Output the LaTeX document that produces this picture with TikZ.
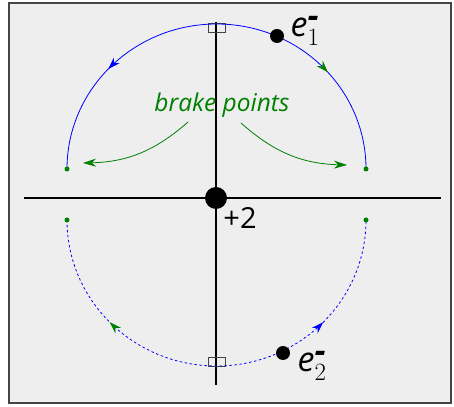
\documentclass[tikz,border=0pt]{standalone}
\usepackage{fontspec}
\setmainfont{Open Sans}
\usetikzlibrary{arrows.meta,decorations.markings,calc}
\definecolor{bgray}{HTML}{EEEEEE}
\definecolor{fgray}{HTML}{444444}
\definecolor{dgreen}{RGB}{0,128,0}
\begin{document}
\begin{tikzpicture}[x=1pt,y=1pt,
  axis/.style={line width=1.8pt,black},
  orbit/.style={blue,line width=0.8pt},
  brk/.style={circle,fill=dgreen,inner sep=0pt,minimum size=5pt},
  elec/.style={circle,fill=black,inner sep=0pt,minimum size=14pt},
  rmark/.style={draw=fgray,line width=0.8pt},
  garrow/.style={dgreen,line width=0.8pt,-{Stealth[length=13pt,width=8pt]}},
  lbl/.style={font=\fontsize{24}{28}\selectfont,inner sep=0pt}
]
\useasboundingbox (0,0) rectangle (454,406);
\draw[fill=bgray,draw=fgray,line width=2pt] (8.5,3) rectangle (451,403);
% axes
\coordinate (hl) at (24,208);
\coordinate (hr) at (441,208);
\coordinate (vt) at (216,384);
\coordinate (vb) at (216,21);
\draw[axis] (hl) -- (hr);
\draw[axis] (vt) -- (vb);
% right angle marks
\draw[rmark] (208,382.5) rectangle (225,373.5);
\draw[rmark] (208.5,40) rectangle (225.5,49);
% upper orbit
\coordinate (ul) at (67,237);
\coordinate (ur) at (366,237);
\draw[orbit,postaction={decorate},decoration={markings,
   mark=at position 0.24 with {\arrowreversed[blue]{Stealth[length=12pt,width=8pt]}},
   mark=at position 0.77 with {\arrow[dgreen]{Stealth[length=12pt,width=8pt]}}}]
   (ul) arc[start angle=180,end angle=0,x radius=149.5,y radius=145];
% lower orbit
\coordinate (ll) at (67,186);
\coordinate (lr) at (366,186);
\draw[orbit,dash pattern=on 2.5pt off 2.5pt,postaction={decorate},decoration={markings,
   mark=at position 0.245 with {\arrowreversed[dgreen,solid]{Stealth[length=12pt,width=8pt]}},
   mark=at position 0.755 with {\arrow[blue,solid]{Stealth[length=12pt,width=8pt]}}}]
   (ll) arc[start angle=180,end angle=360,x radius=149.5,y radius=146];
% brake points
\node[brk] (b1) at (ul) {};
\node[brk] (b2) at (ur) {};
\node[brk] (b3) at (ll) {};
\node[brk] (b4) at (lr) {};
\node[lbl,text=dgreen,font=\fontsize{24.5}{28}\selectfont\itshape] (bp) at (222,301) {brake points};
\coordinate (a1s) at (188,284);
\coordinate (a1e) at (83,243);
\coordinate (a2s) at (241,283);
\coordinate (a2e) at (347,241);
\draw[garrow] (a1s) to[bend left=20] (a1e);
\draw[garrow] (a2s) to[bend right=20] (a2e);
% nucleus
\node[circle,fill=black,inner sep=0pt,minimum size=22pt] (nuc) at (216,208) {};
\node[lbl,font=\fontsize{29}{32}\selectfont] (plus) at (240,188) {+2};
% electrons
\node[elec] (e1) at (277,370) {};
\node[lbl,font=\fontsize{34}{36}\selectfont\itshape] (e1l) at (305,375) {e$_1^{\textbf{-}}$};
\node[elec] (e2) at (283,53) {};
\node[lbl,font=\fontsize{34}{36}\selectfont\itshape] (e2l) at (312,40) {e$_2^{\textbf{-}}$};
\end{tikzpicture}
\end{document}
